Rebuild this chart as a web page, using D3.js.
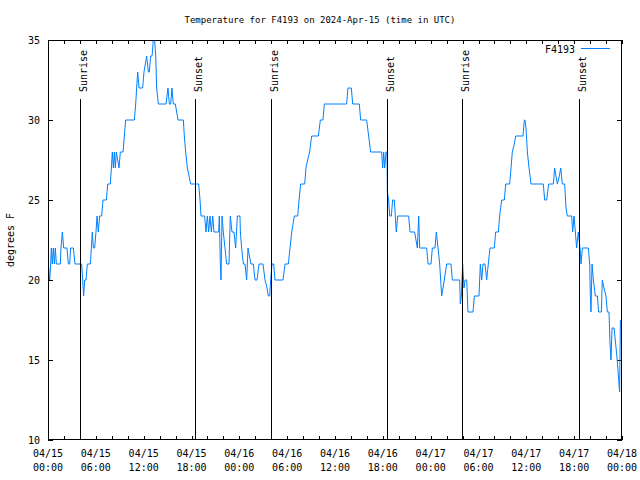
<!DOCTYPE html>
<html><head><meta charset="utf-8">
<script src="https://cdn.jsdelivr.net/npm/d3@7"></script>
<style>
body{margin:0;background:#fff}
svg text{font-family:"DejaVu Sans Mono",monospace;font-size:10px;fill:#000}
</style>
</head><body>
<svg id="chart" width="640" height="480"></svg>
<script>
// hours since 2024-04-15 00:00 UTC
const hours = [0,0.04,0.21,0.34,0.42,0.54,0.67,0.80,0.92,1.05,1.55,1.63,1.80,1.97,2.38,2.55,2.72,2.84,3.18,3.39,4.22,4.35,4.47,4.60,4.77,4.93,5.31,5.44,5.56,5.69,5.85,6.02,6.15,6.31,6.48,6.73,6.90,7.32,7.49,7.82,7.95,8.07,8.20,8.32,8.45,8.57,8.91,9.07,9.41,9.58,9.74,10.83,11.00,11.12,11.25,11.42,
11.54,11.87,12.04,12.38,12.59,12.71,12.88,13.05,13.21,13.38,13.51,13.63,13.84,14.80,15.05,15.22,15.39,15.55,15.72,15.97,16.31,16.98,17.10,17.27,17.48,17.69,17.90,18.90,19.07,19.19,19.65,19.82,19.99,20.15,20.32,20.49,20.66,20.82,21.41,21.49,21.62,21.70,21.83,21.99,22.20,22.41,22.70,22.87,23.08,23.33,23.54,23.75,24.08,
24.13,24.29,24.50,24.71,24.92,25.09,25.26,25.46,25.76,25.97,26.22,26.47,26.97,27.22,27.47,27.64,27.81,27.93,28.10,28.31,28.47,29.48,29.73,30.15,30.36,30.57,30.90,31.32,31.49,31.69,32.20,32.36,32.57,32.82,33.07,33.91,34.16,34.49,34.66,
37.46,37.63,38.05,38.22,39.05,39.22,39.97,40.22,40.47,41.85,41.98,42.11,42.23,42.40,42.52,42.57,42.73,42.86,43.07,43.23,43.44,43.69,43.86,45.24,45.41,45.99,46.16,46.33,46.50,46.62,46.75,47.50,47.67,
48.04,48.21,48.54,48.71,48.92,49.13,49.38,49.55,49.71,50.01,50.55,50.72,51.64,51.72,51.85,52.01,52.18,52.31,52.52,52.68,53.31,53.48,54.06,54.23,54.40,54.56,54.82,55.02,55.23,55.44,55.99,56.15,56.49,56.65,56.91,57.24,57.41,57.91,58.08,58.24,58.49,58.66,59.58,59.75,
59.83,59.96,60.13,60.34,60.59,62.13,62.30,62.55,62.80,63.39,63.55,63.72,63.89,64.14,64.31,64.52,64.81,64.98,65.14,65.69,65.81,65.98,66.15,66.31,66.52,66.73,66.86,67.03,67.78,67.95,68.03,68.11,68.24,68.41,68.66,68.91,69.07,69.41,69.53,69.74,69.99,70.16,70.37,70.50,70.62,70.75,71.00,71.21,71.40,71.55,71.70,71.80];
const temps = [22,21,20,21,22,21,22,21,22,21,21,22,23,22,22,21,21,22,22,21,21,20,19,20,20,21,21,22,23,22,22,23,24,23,24,24,25,25,26,26,27,28,27,28,27,28,27,28,28,29,30,30,31,32,33,32,
32,32,33,34,33,33,34,34,35,35,34,32,31,31,32,31,31,32,31,31,30,30,29,28,27,26.5,26,26,25,24,24,23,24,23,24,23,24,23,23,24,21,20,24,23,22,21,21,24,23,23,22,24,24,
23,22,21,21,20,22,21.5,21,21,20,20,21,21,20,19.5,19,19,20,21,21,20,20,21,21,22,23,24,24,25,26,26,27,27.5,28,29,29,30,30,31,
31,32,32,31,31,30,30,29,28,28,27,28,27,28,28,25.5,25,24,24,25,25,23,24,24,23,23,22.5,22,24,22,22,22,21,
21,22,22,23,22,21,19,19.5,20,21,21,20,20,18.5,19,21,19.5,20,20,18,18,19,19,21,20,21,21,20,21,22,22,23,23,24,25,25,26,26,27,28,28.5,29,29,30,
30,29.5,28,27,26,26,25,25,26,26,27,26.5,26,26.5,27,26,26,24.5,24,24,23,24,23,22,23,22,21,22,22,21,19,18,21,20,19,19,18,18,20,19.5,19,18,18,16,15,17,17,16,15,14,13,17.5];

const xTickHours = [0,6,12,18,24,30,36,42,48,54,60,66,72];
const xTickDates = ["04/15","04/15","04/15","04/15","04/16","04/16","04/16","04/16","04/17","04/17","04/17","04/17","04/18"];
const xTickTimes = ["00:00","06:00","12:00","18:00","00:00","06:00","12:00","18:00","00:00","06:00","12:00","18:00","00:00"];
const xMinorHours = d3.range(0, 73, 2);
const yTicks = [10,15,20,25,30,35];
const sunHours = [4.0,18.45,27.97,42.52,51.93,66.6];
const sunLabels = ["Sunrise","Sunset","Sunrise","Sunset","Sunrise","Sunset"];
const seriesName = "F4193";
const titleText = "Temperature for F4193 on 2024-Apr-15 (time in UTC)";
const yLabel = "degrees F";

const t0 = Date.UTC(2024,3,15,0,0);
const toDate = h => new Date(t0 + h*3600e3);
const L = 48, R = 622, T = 40, B = 440;
const color = "#0080ff";

const svg = d3.select("#chart");
const x = d3.scaleUtc().domain([toDate(0), toDate(72)]).range([L, R]);
const y = d3.scaleLinear().domain([10, 35]).range([B, T]);

svg.append("text").attr("x", 320).attr("y", 23).attr("text-anchor", "middle")
  .style("font-size", "9px").text(titleText);

// ticks (mirrored, inward)
const tk = svg.append("g").attr("stroke", "#000").attr("stroke-width", 1).attr("shape-rendering", "crispEdges");
xMinorHours.forEach(h => {
  const px = Math.round(x(toDate(h))) + 0.5;
  tk.append("line").attr("x1", px).attr("x2", px).attr("y1", B).attr("y2", B - 4);
  tk.append("line").attr("x1", px).attr("x2", px).attr("y1", T).attr("y2", T + 4);
});
yTicks.forEach(v => {
  const py = Math.round(y(v)) + 0.5;
  tk.append("line").attr("x1", L).attr("x2", L + 5).attr("y1", py).attr("y2", py);
  tk.append("line").attr("x1", R).attr("x2", R - 5).attr("y1", py).attr("y2", py);
});

// y tick labels
svg.append("g").selectAll("text").data(yTicks).join("text")
  .attr("x", 40).attr("y", d => y(d)).attr("dy", "0.35em").attr("text-anchor", "end").text(d => d);

// x tick labels
const xl = svg.append("g").selectAll("text").data(xTickHours).join("text")
  .attr("text-anchor", "middle");
xl.append("tspan").attr("x", d => x(toDate(d))).attr("y", 457).text((d, i) => xTickDates[i]);
xl.append("tspan").attr("x", d => x(toDate(d))).attr("y", 471).text((d, i) => xTickTimes[i]);

svg.append("text").attr("transform", "translate(14,240) rotate(-90)").attr("text-anchor", "middle").text(yLabel);

// clip
svg.append("clipPath").attr("id", "clip").append("rect").attr("x", L).attr("y", T).attr("width", R - L).attr("height", B - T);

const data = hours.map((h, i) => ({d: toDate(h), v: temps[i]}));
svg.append("path").datum(data).attr("clip-path", "url(#clip)")
  .attr("fill", "none").attr("stroke", color).attr("stroke-width", 1)
  .attr("d", d3.line().x(d => x(d.d)).y(d => y(d.v)));

// sunrise / sunset markers
const sg = svg.append("g");
sunHours.forEach((h, i) => {
  const px = Math.round(x(toDate(h))) + 0.5;
  sg.append("line").attr("x1", px).attr("x2", px).attr("y1", 99).attr("y2", B)
    .attr("stroke", "#000").attr("shape-rendering", "crispEdges");
  sg.append("text").attr("transform", `translate(${px + 6},92) rotate(-90)`).text(sunLabels[i]);
});

// border
svg.append("rect").attr("x", L + 0.5).attr("y", T + 0.5).attr("width", R - L - 1).attr("height", B - T - 1)
  .attr("fill", "none").attr("stroke", "#000").attr("shape-rendering", "crispEdges");

// legend
svg.append("text").attr("x", 575).attr("y", 49).attr("dy", "0.35em").attr("text-anchor", "end").text(seriesName);
svg.append("line").attr("x1", 581).attr("x2", 610).attr("y1", 48.5).attr("y2", 48.5).attr("stroke", color);
</script>
</body></html>
